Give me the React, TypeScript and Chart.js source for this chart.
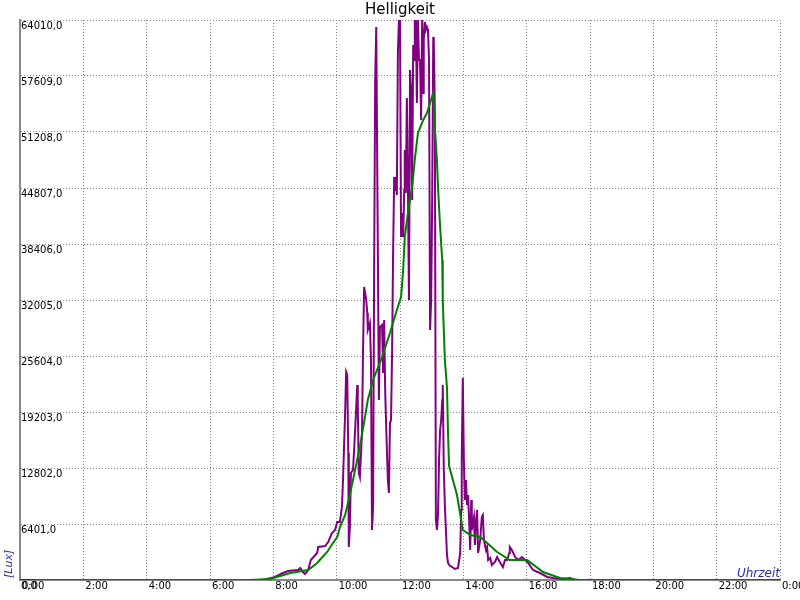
import React, { useEffect, useRef } from "react";
import { Chart, registerables } from "chart.js";

Chart.register(...registerables);

const chartTitle = "Helligkeit";
const yAxisLabel = "[Lux]";
const xAxisLabel = "Uhrzeit";

const yMax = 64010;
const yStep = 6401;
const xMaxMinutes = 1440;
const xStepMinutes = 120;

// Brightness samples: time in minutes since midnight, brightness in lux
const purpleMinutes = [
  0, 436, 459, 468, 483, 498, 508, 527, 531, 536,
  540, 546, 551, 563, 565, 578, 584, 591, 597, 601,
  606, 610, 612, 616, 618, 620, 622, 623, 625, 627,
  631, 635, 639, 640, 642, 644, 648, 650, 652, 656,
  658, 659, 663, 665, 667, 669, 671, 673, 675, 676,
  678, 680, 682, 686, 688, 690, 692, 695, 697, 699,
  701, 703, 705, 707, 709, 711, 712, 714, 716, 718,
  720, 722, 724, 726, 728, 729, 731, 733, 735, 737,
  739, 741, 743, 745, 747, 748, 750, 752, 754, 756,
  758, 760, 762, 764, 765, 767, 769, 771, 773, 775,
  777, 779, 781, 783, 784, 786, 788, 790, 792, 794,
  796, 798, 800, 801, 803, 805, 807, 809, 811, 815,
  819, 824, 830, 834, 836, 837, 839, 841, 843, 845,
  847, 849, 851, 853, 855, 856, 858, 860, 862, 864,
  866, 868, 872, 875, 877, 879, 883, 885, 887, 891,
  894, 900, 904, 909, 915, 919, 923, 927, 928, 932,
  938, 944, 951, 957, 963, 972, 985, 999, 1010, 1029,
  1042, 1052, 1440,
];
const purpleLux = [
  0, 0, 0, 114, 343, 800, 1029, 1143, 1372, 914,
  686, 1143, 2286, 3086, 3772, 3886, 4344, 5372, 5715, 6630,
  6630, 8344, 11430, 19089, 23775, 23432, 14517, 3772, 6058, 12231,
  12573, 17146, 22289, 20003, 12231, 11773, 16803, 26290, 33491, 32005,
  30519, 28576, 29376, 25147, 5715, 8344, 35434, 57381, 63210, 63210,
  37949, 20575, 28919, 29148, 23661, 29719, 21375, 15202, 11430, 9944,
  17946, 18289, 25947, 37720, 46065, 44579, 46065, 44007, 60238, 64010,
  64010, 39206, 41949, 39206, 44579, 49151, 44236, 55095, 45150, 32005,
  58295, 56009, 43435, 61153, 59438, 64010, 64010, 54523, 64010, 59438,
  59438, 52580, 64010, 55666, 61724, 63782, 62867, 63210, 62867, 59438,
  28576, 32005, 43435, 62067, 61724, 53723, 6858, 5715, 7430, 13716,
  17146, 18289, 20575, 22289, 12573, 8573, 5715, 2858, 1943, 1600,
  1486, 1257, 1372, 3086, 8001, 13716, 23089, 13716, 9144, 11430,
  8573, 9716, 6858, 3429, 9144, 5715, 6515, 7201, 4001, 6858,
  8001, 3086, 4572, 7201, 7430, 4572, 3429, 3772, 2286, 2515,
  1715, 2058, 2629, 2058, 1486, 2286, 2286, 3086, 3772, 3429,
  2629, 2286, 2629, 2286, 1943, 1143, 800, 343, 229, 114,
  229, 0, 0,
];

// Smoothed brightness
const greenMinutes = [
  28, 436, 474, 512, 546, 563, 568, 582, 593, 601,
  606, 616, 625, 644, 659, 669, 686, 701, 714, 722,
  726, 729, 735, 739, 743, 748, 754, 764, 771, 777,
  783, 786, 790, 792, 796, 800, 801, 805, 809, 811,
  813, 828, 839, 853, 872, 904, 928, 961, 991, 1023,
  1061, 1421,
];
const greenLux = [
  0, 0, 114, 800, 1143, 1943, 2286, 3201, 4229, 4915,
  6000, 7430, 9716, 15202, 20575, 22861, 25490, 28233, 30862, 32348,
  35434, 39206, 41949, 43435, 44922, 48008, 51095, 52580, 53381, 54523,
  55666, 51781, 48008, 44922, 40350, 36577, 32005, 25147, 22061, 16803,
  13030, 9716, 5715, 5144, 4915, 3201, 2286, 2286, 914, 229,
  0, 0,
];

const FONT = "'DejaVu Sans', sans-serif";

export default function App() {
  const ref = useRef<HTMLCanvasElement>(null);

  useEffect(() => {
    document.body.style.margin = "0";
    const canvas = ref.current;
    if (!canvas) return;

    const axisTitles = {
      id: "axisTitles",
      afterDraw(chart: any) {
        const { ctx, chartArea } = chart;
        ctx.save();
        ctx.fillStyle = "#2b2ba8";
        ctx.font = `italic 12px ${FONT}`;
        ctx.textAlign = "right";
        ctx.textBaseline = "alphabetic";
        ctx.fillText(xAxisLabel, chartArea.right, chartArea.bottom - 3);
        ctx.font = `italic 11px ${FONT}`;
        ctx.translate(11.5, chartArea.bottom - 2);
        ctx.rotate(-Math.PI / 2);
        ctx.textAlign = "left";
        ctx.fillText(yAxisLabel, 0, 0);
        ctx.restore();
      },
    };

    const chart = new Chart(canvas, {
      type: "line",
      data: {
        datasets: [
          {
            label: "Mittel",
            data: greenMinutes.map((t, i) => ({ x: t, y: greenLux[i] })),
            borderColor: "#008000",
            borderWidth: 2,
            pointRadius: 0,
            tension: 0,
            fill: false,
            order: 0,
          },
          {
            label: "Helligkeit",
            data: purpleMinutes.map((t, i) => ({ x: t, y: purpleLux[i] })),
            borderColor: "#800080",
            borderWidth: 2,
            pointRadius: 0,
            tension: 0,
            fill: false,
            order: 1,
          },
        ],
      },
      options: {
        animation: false,
        responsive: false,
        devicePixelRatio: 1,
        font: { family: FONT },
        layout: { padding: { left: 20, right: 20, top: 0, bottom: 8 } },
        plugins: {
          legend: { display: false },
          tooltip: { enabled: false },
          title: {
            display: true,
            text: chartTitle,
            color: "#000",
            font: { family: FONT, size: 15, weight: "normal" },
            padding: { top: 1, bottom: 1 },
          },
        },
        scales: {
          x: {
            type: "linear",
            min: 0,
            max: xMaxMinutes,
            ticks: {
              stepSize: xStepMinutes,
              autoSkip: false,
              align: "start",
              padding: 0,
              labelOffset: 2,
              maxRotation: 0,
              color: "#000",
              font: { family: FONT, size: 10 },
              callback: (v: any) => `${(Number(v) / 60) % 24}:00`,
            },
            grid: { color: "#888", lineWidth: 1, drawTicks: false },
            border: { color: "#888", width: 2, dash: [1, 2] },
            afterFit: (s: any) => {
              s.paddingLeft = 0;
              s.paddingRight = 0;
            },
          },
          y: {
            type: "linear",
            min: 0,
            max: yMax,
            ticks: {
              stepSize: yStep,
              mirror: true,
              padding: 1,
              labelOffset: 6,
              autoSkip: false,
              color: "#000",
              font: { family: FONT, size: 10 },
              callback: (v: any) => Number(v).toFixed(1).replace(".", ","),
            },
            grid: { color: "#888", lineWidth: 1, drawTicks: false },
            border: { color: "#888", width: 2, dash: [1, 2] },
            afterFit: (s: any) => {
              s.width = 0;
            },
          },
        },
      } as any,
      plugins: [axisTitles],
    });

    return () => chart.destroy();
  }, []);

  return (
    <div style={{ width: 800, height: 600 }}>
      <canvas ref={ref} width={800} height={600} />
    </div>
  );
}
